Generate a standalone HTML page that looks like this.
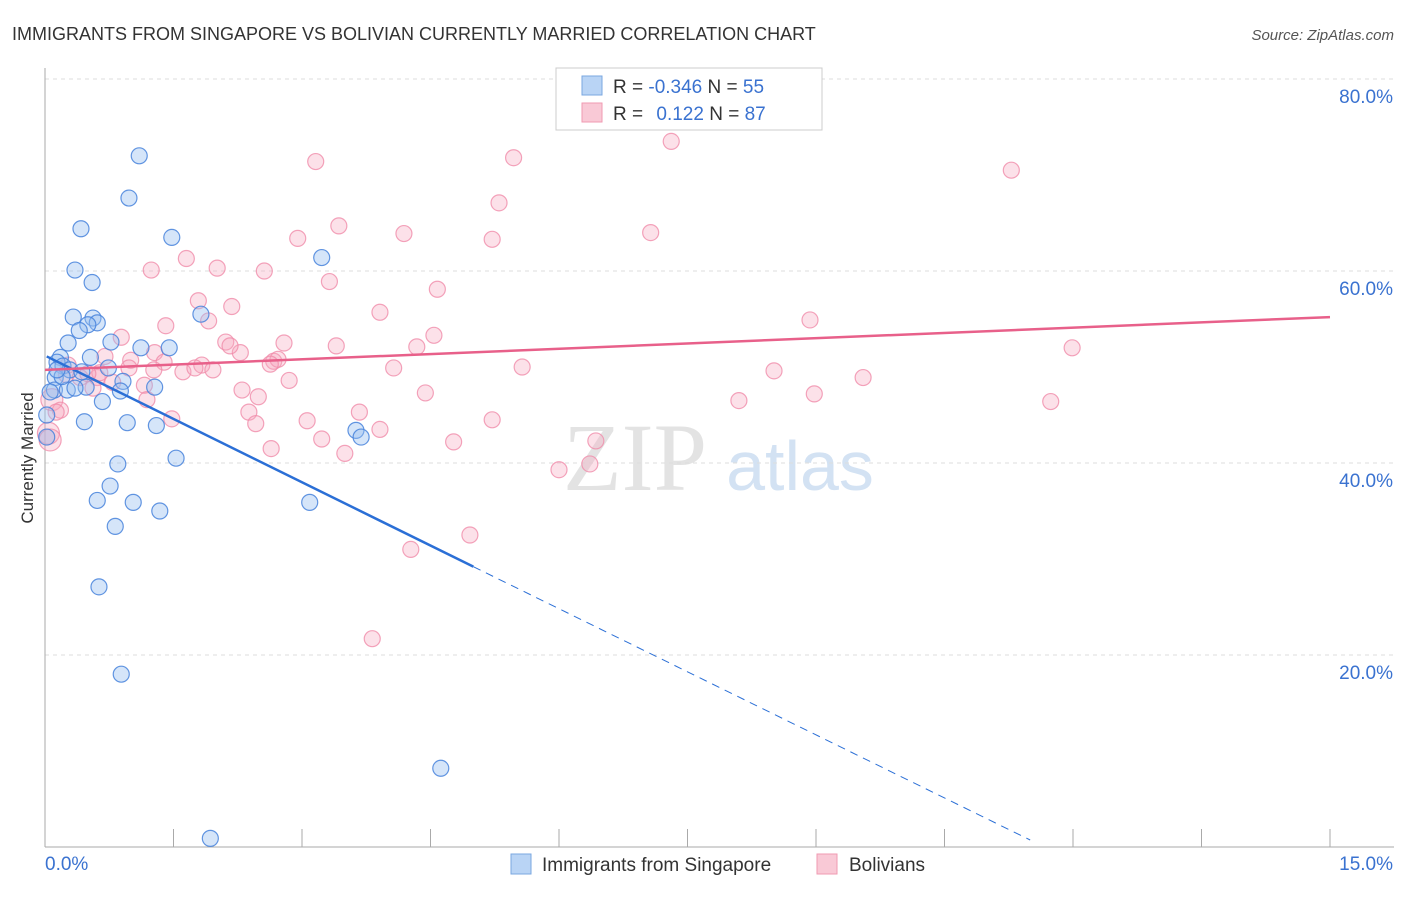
<!DOCTYPE html>
<html><head><meta charset="utf-8"><style>
body{margin:0;background:#fff;font-family:"Liberation Sans",sans-serif}
</style></head><body>
<svg id="chart" width="1406" height="892" xmlns="http://www.w3.org/2000/svg" font-family="Liberation Sans, sans-serif">
<text x="12" y="40" font-size="18" fill="#333">IMMIGRANTS FROM SINGAPORE VS BOLIVIAN CURRENTLY MARRIED CORRELATION CHART</text>
<text x="1394" y="40" font-size="15" fill="#555" font-style="italic" text-anchor="end">Source: ZipAtlas.com</text>
<text transform="translate(33,458) rotate(-90)" font-size="17" fill="#333" text-anchor="middle">Currently Married</text>
<g><text x="635" y="490" font-size="96" fill="#e3e3e3" font-family="Liberation Serif, serif" text-anchor="middle">ZIP</text><text x="800" y="490" font-size="70" fill="#d3e2f3" text-anchor="middle">atlas</text></g>
<g id="grid"></g><g id="axes"></g><g id="pts"></g><g id="lines"></g>
<g>
<rect x="556" y="68" width="266" height="62" fill="#fff" stroke="#ccc"/>
<rect x="582" y="76" width="20" height="19" fill="#b9d4f5" stroke="#7aa7e0"/>
<rect x="582" y="103" width="20" height="19" fill="#f9c9d6" stroke="#f09ab2"/>
<text x="613" y="93" font-size="19" fill="#333">R = <tspan fill="#3a72d0">-0.346</tspan>   N = <tspan fill="#3a72d0">55</tspan></text>
<text x="613" y="120" font-size="19" fill="#333">R = <tspan fill="#3a72d0" dx="8">0.122</tspan>   N = <tspan fill="#3a72d0">87</tspan></text>
</g>
<g>
<rect x="511" y="854" width="20" height="20" fill="#b9d4f5" stroke="#7aa7e0"/>
<text x="542" y="871" font-size="19" fill="#333">Immigrants from Singapore</text>
<rect x="817" y="854" width="20" height="20" fill="#f9c9d6" stroke="#f09ab2"/>
<text x="849" y="871" font-size="19" fill="#333">Bolivians</text>
</g>
</svg>
<script>
const blueX=[1.10,0.98,0.42,1.48,0.35,0.55,3.23,0.33,0.56,0.61,0.50,0.40,1.82,0.27,0.77,1.12,1.45,0.18,0.53,0.14,0.21,0.74,0.29,0.12,0.91,0.48,0.11,0.26,0.88,1.28,0.67,0.46,0.96,1.30,3.63,3.69,1.53,0.85,0.76,0.61,1.03,3.09,1.34,0.82,0.63,0.89,4.62,1.93,0.02,0.02,0.06,0.20,0.35,0.14,0.43];
const blueY=[72.0,67.6,64.4,63.5,60.1,58.8,61.4,55.2,55.1,54.6,54.4,53.8,55.5,52.5,52.6,52.0,52.0,51.0,51.0,50.5,50.1,49.9,49.7,48.9,48.5,47.9,47.6,47.6,47.5,47.9,46.4,44.3,44.2,43.9,43.4,42.7,40.5,39.9,37.6,36.1,35.9,35.9,35.0,33.4,27.1,18.0,8.2,0.9,42.7,45.0,47.4,49.0,47.8,49.7,49.5];
const pinkX=[7.31,5.47,3.16,11.28,5.30,3.43,2.95,4.19,5.22,7.07,1.65,1.24,2.01,2.56,3.32,4.58,1.79,2.18,3.91,1.91,8.93,1.41,0.89,4.54,2.11,2.79,3.40,4.34,11.99,2.28,1.28,0.70,1.00,2.67,2.72,1.83,1.39,1.61,1.96,4.07,5.57,8.51,9.55,0.61,0.25,2.85,1.16,2.30,4.44,8.98,8.10,11.74,2.49,0.56,0.79,0.08,0.18,3.67,2.38,1.48,3.06,5.22,2.46,3.91,3.23,4.77,6.43,3.50,2.64,6.36,6.00,4.27,4.96,3.82,0.04,0.06,1.19,0.41,2.16,0.27,0.98,0.64,0.50,1.27,1.75,2.63,0.13];
const pinkY=[73.5,71.8,71.4,70.5,67.1,64.7,63.4,63.9,63.3,64.0,61.3,60.1,60.3,60.0,58.9,58.1,56.9,56.3,55.7,54.8,54.9,54.3,53.1,53.3,52.6,52.5,52.2,52.1,52.0,51.5,51.5,51.1,50.7,50.6,50.8,50.2,50.5,49.5,49.7,49.9,50.0,49.6,48.9,48.9,49.2,48.6,48.1,47.6,47.3,47.2,46.5,46.4,46.9,47.8,48.4,46.6,45.5,45.3,45.3,44.6,44.4,44.5,44.1,43.5,42.5,42.2,42.3,41.0,41.5,39.9,39.3,31.0,32.5,21.7,43.1,42.4,46.6,48.9,52.2,50.2,49.9,49.4,49.3,49.7,49.9,50.3,45.3];
const yTicks=[20,40,60,80];
const yTickLabels=["20.0%","40.0%","60.0%","80.0%"];
const blueTrend=[51.1,-0.346];const pinkTrend=[49.7,0.122];
const blueSlope=(29.2-51.1)/5.0, pinkSlope=(55.2-49.7)/15;
const X=v=>45+v*(1285/15), Y=v=>847-v*9.6;
const NS="http://www.w3.org/2000/svg";
function mk(t,a,p){const e=document.createElementNS(NS,t);for(const k in a)e.setAttribute(k,a[k]);document.getElementById(p).appendChild(e);return e;}
yTicks.forEach((t,i)=>{
 const l=mk('line',{x1:45,x2:1394,y1:Y(t),y2:Y(t),stroke:'#ddd','stroke-dasharray':'4,4'},'grid');
 
 
 const tx=mk('text',{x:1393,y:Y(t)+24,'font-size':19,fill:'#3a72d0','text-anchor':'end'},'axes');tx.textContent=yTickLabels[i];
 
 
});
const ax=mk('line',{x1:45,x2:45,y1:68,y2:847,stroke:'#aaa'},'axes');


const bx=mk('line',{x1:45,x2:1394,y1:847,y2:847,stroke:'#aaa'},'axes');


for(let i=1;i<=10;i++){const t=mk('line',{x1:X(i*1.5),x2:X(i*1.5),y1:829,y2:847,stroke:'#aaa'},'axes');
 
 }
[[0,"0.0%",'start',45],[15,"15.0%",'end',1393]].forEach(d=>{const t=mk('text',{x:d[3],y:870,'font-size':19,fill:'#3a72d0','text-anchor':d[2]},'axes');t.textContent=d[1];
 
 });
pinkX.forEach((x,i)=>{const c=mk('circle',{cx:X(x),cy:Y(pinkY[i]),r:(x<0.1?11:8),fill:'rgba(247,170,192,0.35)',stroke:'rgba(240,140,170,0.8)','stroke-width':1.2},'pts');
 
 });
blueX.forEach((x,i)=>{const c=mk('circle',{cx:X(x),cy:Y(blueY[i]),r:8,fill:'rgba(150,190,240,0.4)',stroke:'rgba(70,130,220,0.85)','stroke-width':1.2},'pts');
 
 });
const bl=mk('line',{x1:X(0.02),y1:Y(blueTrend[0]),x2:X(5),y2:Y(blueTrend[0]+blueSlope*5),stroke:'#2b6fd6','stroke-width':2.5},'lines');


const bd=mk('line',{x1:X(5),y1:Y(blueTrend[0]+blueSlope*5),x2:X(11.5),y2:Y(blueTrend[0]+blueSlope*11.5),stroke:'#2b6fd6','stroke-width':1,'stroke-dasharray':'8,6'},'lines');


const pl=mk('line',{x1:X(0),y1:Y(pinkTrend[0]),x2:X(15),y2:Y(pinkTrend[0]+pinkSlope*15),stroke:'#e8608a','stroke-width':2.5},'lines');


</script>
</body></html>
